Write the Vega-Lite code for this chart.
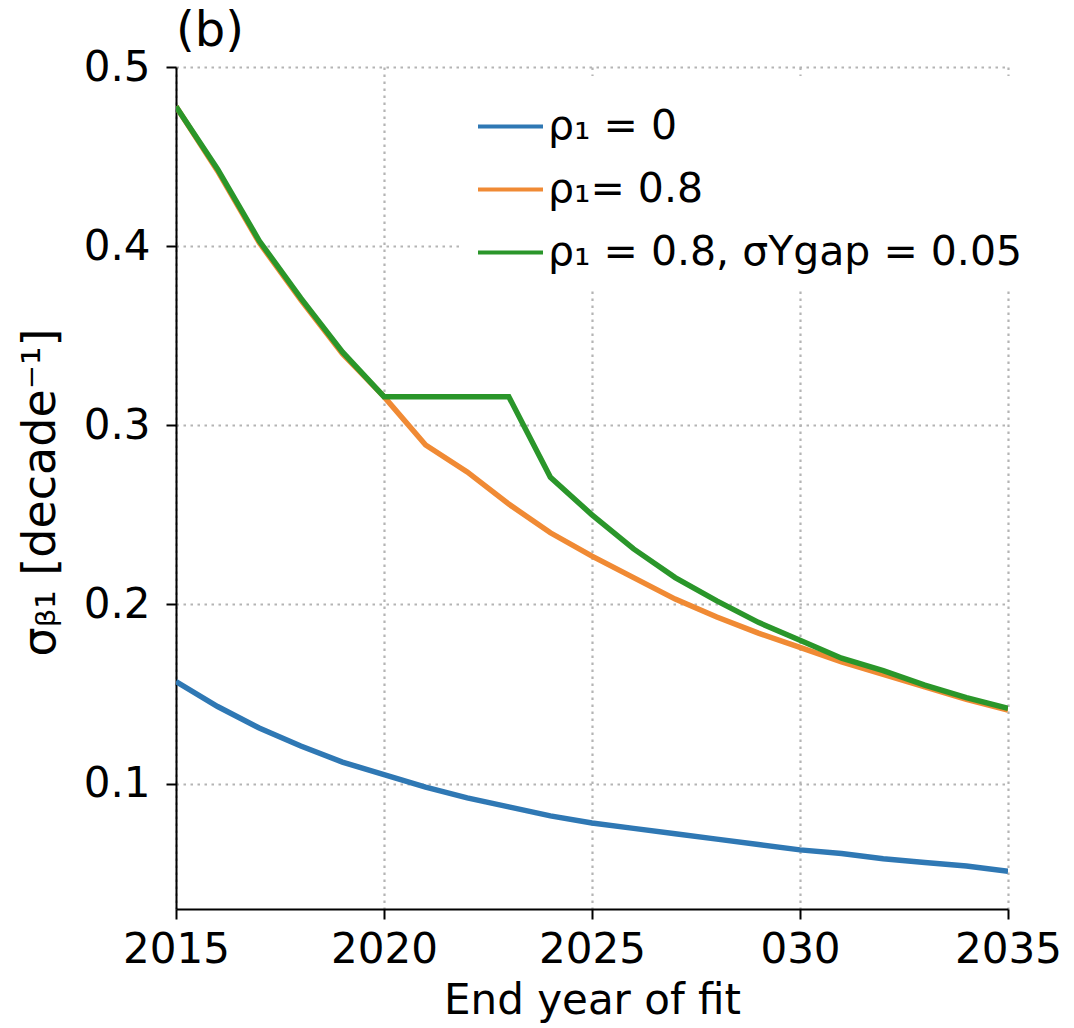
{
  "$schema": "https://vega.github.io/schema/vega-lite/v6.json",
  "width": 832,
  "height": 842,
  "autosize": {"type": "none"},
  "padding": {"left": 176, "top": 67, "right": 66, "bottom": 119},
  "background": "white",
  "title": {"text": "(b)", "anchor": "start", "frame": "group", "fontSize": 48, "font": "DejaVu Sans", "fontWeight": "normal", "color": "black", "baseline": "alphabetic", "offset": 0, "dy": 48},
  "config": {
    "font": "DejaVu Sans",
    "view": {"stroke": null},
    "axis": {
      "gridDash": [2.5, 4.5],
      "gridColor": "#b4b4b4",
      "gridWidth": 2.2,
      "domainColor": "black",
      "domainWidth": 2,
      "tickColor": "black",
      "tickWidth": 2,
      "tickSize": 10,
      "labelFont": "DejaVu Sans",
      "labelFontSize": 42,
      "labelColor": "black",
      "titleFont": "DejaVu Sans",
      "titleFontSize": 42,
      "titleFontWeight": "normal",
      "titleColor": "black"
    }
  },
  "data": {"values": [
    {"year": 2015, "sigma": 0.157, "series": "ρ₁ = 0"},
    {"year": 2016, "sigma": 0.143, "series": "ρ₁ = 0"},
    {"year": 2017, "sigma": 0.131, "series": "ρ₁ = 0"},
    {"year": 2018, "sigma": 0.121, "series": "ρ₁ = 0"},
    {"year": 2019, "sigma": 0.112, "series": "ρ₁ = 0"},
    {"year": 2020, "sigma": 0.105, "series": "ρ₁ = 0"},
    {"year": 2021, "sigma": 0.098, "series": "ρ₁ = 0"},
    {"year": 2022, "sigma": 0.092, "series": "ρ₁ = 0"},
    {"year": 2023, "sigma": 0.087, "series": "ρ₁ = 0"},
    {"year": 2024, "sigma": 0.082, "series": "ρ₁ = 0"},
    {"year": 2025, "sigma": 0.078, "series": "ρ₁ = 0"},
    {"year": 2026, "sigma": 0.075, "series": "ρ₁ = 0"},
    {"year": 2027, "sigma": 0.072, "series": "ρ₁ = 0"},
    {"year": 2028, "sigma": 0.069, "series": "ρ₁ = 0"},
    {"year": 2029, "sigma": 0.066, "series": "ρ₁ = 0"},
    {"year": 2030, "sigma": 0.063, "series": "ρ₁ = 0"},
    {"year": 2031, "sigma": 0.061, "series": "ρ₁ = 0"},
    {"year": 2032, "sigma": 0.058, "series": "ρ₁ = 0"},
    {"year": 2033, "sigma": 0.056, "series": "ρ₁ = 0"},
    {"year": 2034, "sigma": 0.054, "series": "ρ₁ = 0"},
    {"year": 2035, "sigma": 0.051, "series": "ρ₁ = 0"},
    {"year": 2015, "sigma": 0.478, "series": "ρ₁= 0.8"},
    {"year": 2016, "sigma": 0.442, "series": "ρ₁= 0.8"},
    {"year": 2017, "sigma": 0.402, "series": "ρ₁= 0.8"},
    {"year": 2018, "sigma": 0.370, "series": "ρ₁= 0.8"},
    {"year": 2019, "sigma": 0.340, "series": "ρ₁= 0.8"},
    {"year": 2020, "sigma": 0.316, "series": "ρ₁= 0.8"},
    {"year": 2021, "sigma": 0.289, "series": "ρ₁= 0.8"},
    {"year": 2022, "sigma": 0.274, "series": "ρ₁= 0.8"},
    {"year": 2023, "sigma": 0.256, "series": "ρ₁= 0.8"},
    {"year": 2024, "sigma": 0.240, "series": "ρ₁= 0.8"},
    {"year": 2025, "sigma": 0.227, "series": "ρ₁= 0.8"},
    {"year": 2026, "sigma": 0.215, "series": "ρ₁= 0.8"},
    {"year": 2027, "sigma": 0.203, "series": "ρ₁= 0.8"},
    {"year": 2028, "sigma": 0.193, "series": "ρ₁= 0.8"},
    {"year": 2029, "sigma": 0.184, "series": "ρ₁= 0.8"},
    {"year": 2030, "sigma": 0.176, "series": "ρ₁= 0.8"},
    {"year": 2031, "sigma": 0.168, "series": "ρ₁= 0.8"},
    {"year": 2032, "sigma": 0.161, "series": "ρ₁= 0.8"},
    {"year": 2033, "sigma": 0.154, "series": "ρ₁= 0.8"},
    {"year": 2034, "sigma": 0.147, "series": "ρ₁= 0.8"},
    {"year": 2035, "sigma": 0.141, "series": "ρ₁= 0.8"},
    {"year": 2015, "sigma": 0.478, "series": "ρ₁ = 0.8, σYgap = 0.05"},
    {"year": 2016, "sigma": 0.443, "series": "ρ₁ = 0.8, σYgap = 0.05"},
    {"year": 2017, "sigma": 0.403, "series": "ρ₁ = 0.8, σYgap = 0.05"},
    {"year": 2018, "sigma": 0.371, "series": "ρ₁ = 0.8, σYgap = 0.05"},
    {"year": 2019, "sigma": 0.341, "series": "ρ₁ = 0.8, σYgap = 0.05"},
    {"year": 2020, "sigma": 0.316, "series": "ρ₁ = 0.8, σYgap = 0.05"},
    {"year": 2021, "sigma": 0.316, "series": "ρ₁ = 0.8, σYgap = 0.05"},
    {"year": 2022, "sigma": 0.316, "series": "ρ₁ = 0.8, σYgap = 0.05"},
    {"year": 2023, "sigma": 0.316, "series": "ρ₁ = 0.8, σYgap = 0.05"},
    {"year": 2024, "sigma": 0.271, "series": "ρ₁ = 0.8, σYgap = 0.05"},
    {"year": 2025, "sigma": 0.250, "series": "ρ₁ = 0.8, σYgap = 0.05"},
    {"year": 2026, "sigma": 0.231, "series": "ρ₁ = 0.8, σYgap = 0.05"},
    {"year": 2027, "sigma": 0.215, "series": "ρ₁ = 0.8, σYgap = 0.05"},
    {"year": 2028, "sigma": 0.202, "series": "ρ₁ = 0.8, σYgap = 0.05"},
    {"year": 2029, "sigma": 0.190, "series": "ρ₁ = 0.8, σYgap = 0.05"},
    {"year": 2030, "sigma": 0.180, "series": "ρ₁ = 0.8, σYgap = 0.05"},
    {"year": 2031, "sigma": 0.170, "series": "ρ₁ = 0.8, σYgap = 0.05"},
    {"year": 2032, "sigma": 0.163, "series": "ρ₁ = 0.8, σYgap = 0.05"},
    {"year": 2033, "sigma": 0.155, "series": "ρ₁ = 0.8, σYgap = 0.05"},
    {"year": 2034, "sigma": 0.148, "series": "ρ₁ = 0.8, σYgap = 0.05"},
    {"year": 2035, "sigma": 0.142, "series": "ρ₁ = 0.8, σYgap = 0.05"}
  ]},
  "mark": {"type": "line", "strokeWidth": 5.5, "clip": true},
  "encoding": {
    "x": {
      "field": "year", "type": "quantitative",
      "scale": {"domain": [2015, 2035], "nice": false, "zero": false},
      "axis": {"values": [2015, 2020, 2025, 2030, 2035], "format": "d", "labelExpr": "datum.value == 2030 ? '030' : datum.label", "labelPadding": 10, "title": "End year of fit", "titleBaseline": "alphabetic", "titleY": 104, "titleX": 416, "labelFlush": false}
    },
    "y": {
      "field": "sigma", "type": "quantitative",
      "scale": {"domain": [0.03, 0.5], "nice": false, "zero": false},
      "axis": {"values": [0.1, 0.2, 0.3, 0.4, 0.5], "format": ".1f", "labelPadding": 16, "title": "σᵦ₁ [decade⁻¹]", "titleFontSize": 46, "titleAngle": 270, "titleX": -136, "titleY": 425, "titleAlign": "center", "titleBaseline": "middle", "labelFlush": false}
    },
    "color": {
      "field": "series", "type": "nominal", "sort": null,
      "scale": {"domain": ["ρ₁ = 0", "ρ₁= 0.8", "ρ₁ = 0.8, σYgap = 0.05"], "range": ["#2f78b4", "#f08a34", "#2a962a"]},
      "legend": {"title": null, "orient": "none", "legendX": 284, "legendY": 9, "symbolType": "stroke", "symbolStrokeWidth": 4, "symbolSize": 4225, "labelFontSize": 41, "labelFont": "DejaVu Sans", "labelColor": "black", "labelLimit": 700, "fillColor": "white", "padding": 16, "rowPadding": 8, "labelOffset": 3}
    }
  }
}
